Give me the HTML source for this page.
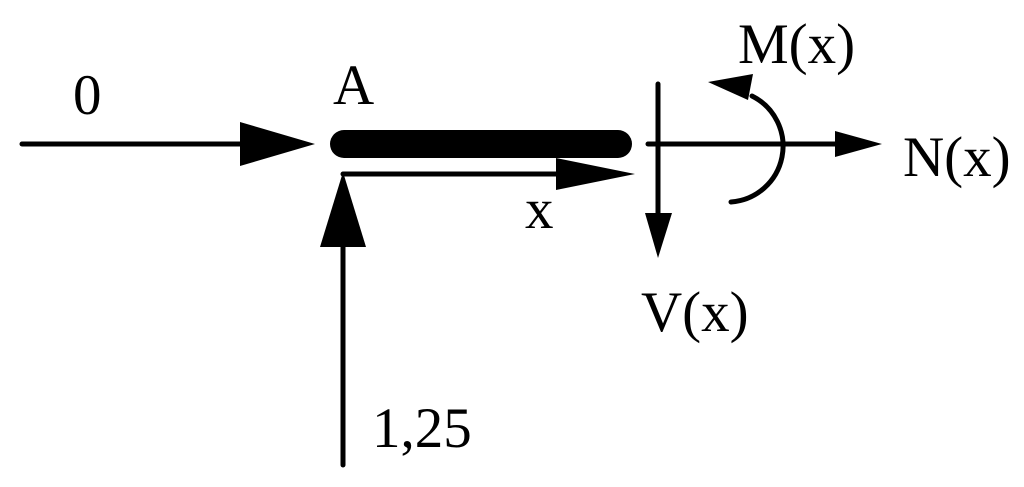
<!DOCTYPE html>
<html><head><meta charset="utf-8"><style>
html,body{margin:0;padding:0;background:#fff;width:1024px;height:487px;overflow:hidden}
svg text{font-family:"Liberation Serif",serif;font-size:57px;fill:#000}
</style></head><body>
<svg width="1024" height="487" viewBox="0 0 1024 487" xmlns="http://www.w3.org/2000/svg">
<g stroke="#000" stroke-linecap="round" fill="none">
<line x1="22" y1="144" x2="245" y2="144" stroke-width="5"/>
<line x1="344" y1="144" x2="618" y2="144" stroke-width="28"/>
<line x1="343" y1="174" x2="570" y2="174" stroke-width="5"/>
<line x1="343" y1="465" x2="343" y2="240" stroke-width="5"/>
<line x1="658" y1="84" x2="658" y2="215" stroke-width="5"/>
<line x1="648" y1="144" x2="840" y2="144" stroke-width="5"/>
<path d="M731 202 A56 56 0 0 0 752 96" stroke-width="5"/>
</g>
<g fill="#000">
<polygon points="240,122 315,144 240,166"/>
<polygon points="556,158 635,174 556,190"/>
<polygon points="320,247 343,172 366,247"/>
<polygon points="645,213 672,213 658,258"/>
<polygon points="835,131 882,144 835,157"/>
<polygon points="708,82 753,74 748,100"/>
</g>
<text x="73" y="114">0</text>
<text x="333" y="104">A</text>
<text x="525" y="228">x</text>
<text x="372" y="447">1,25</text>
<text x="738" y="63">M(x)</text>
<text x="903" y="176">N(x)</text>
<text x="641" y="331">V(x)</text>
</svg>
</body></html>
